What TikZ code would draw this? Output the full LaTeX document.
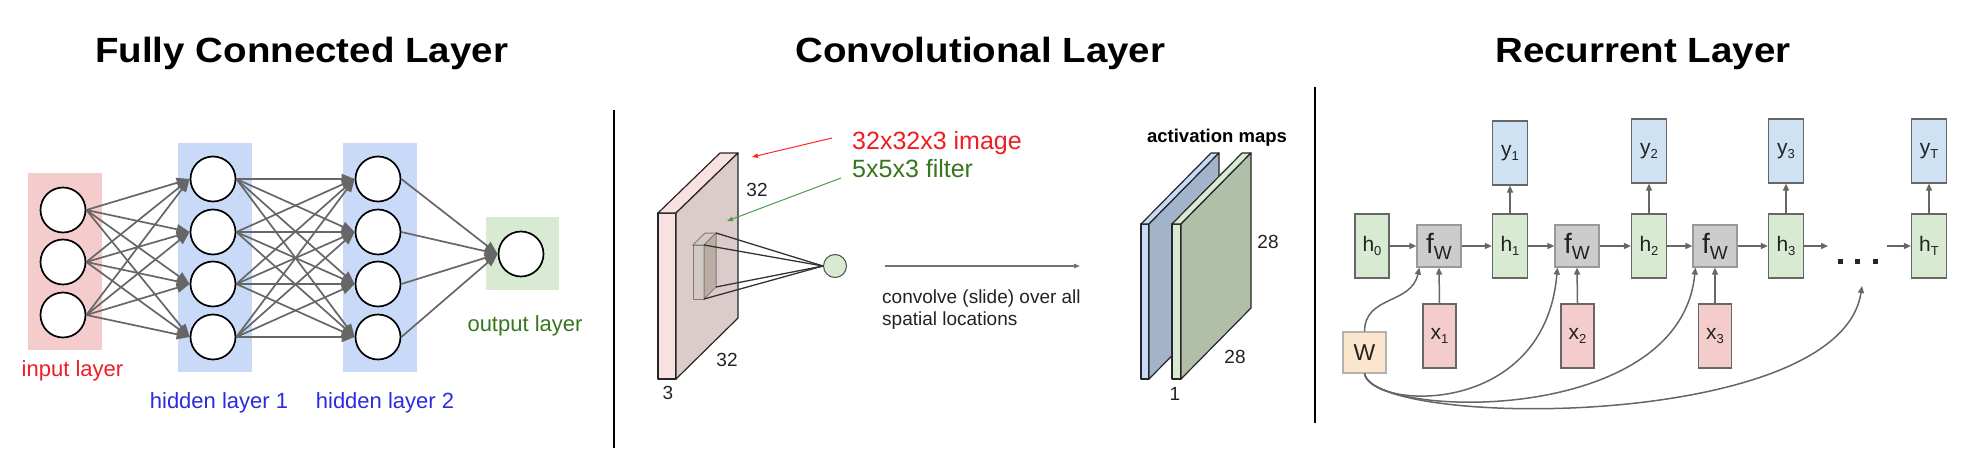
\documentclass[tikz,border=0pt]{standalone}
\usepackage{fontspec}
\setmainfont{Liberation Sans}
\newfontfamily\titlefont[FakeStretch=1.1]{Liberation Sans}
\usetikzlibrary{arrows.meta,calc}
\definecolor{inred}{HTML}{F4CCCC}
\definecolor{hidblue}{HTML}{C9DAF8}
\definecolor{outgreen}{HTML}{D9EAD3}
\definecolor{txtred}{HTML}{EE1C25}
\definecolor{txtblue}{HTML}{2A2AE0}
\definecolor{txtgreen}{HTML}{38761D}
\definecolor{edgegrey}{HTML}{666666}
\definecolor{yfill}{HTML}{CFE2F3}
\definecolor{ffill}{HTML}{CCCCCC}
\definecolor{wfill}{HTML}{FCE5CD}
\definecolor{slabthin}{HTML}{F9E1E1}
\definecolor{slabface}{HTML}{DCCBCB}
\definecolor{filtfront}{HTML}{D3CBC3}
\definecolor{filtside}{HTML}{BAAEA5}
\definecolor{filtline}{HTML}{857874}
\definecolor{bluethin}{HTML}{C9DAF8}
\definecolor{blueface}{HTML}{A3B3C9}
\definecolor{greenthin}{HTML}{D9EAD3}
\definecolor{greenface}{HTML}{B1BFA8}
\definecolor{darktext}{HTML}{222222}
\newcommand\myfs[1]{\fontsize{#1}{#1}\selectfont}
\newcommand\rsub[1]{\raisebox{-4pt}{\fontsize{13}{13}\selectfont #1}}
\begin{document}
\begin{tikzpicture}[x=1pt,y=-1pt,
  neuron/.style={circle,draw=black,line width=1.7pt,fill=white,minimum size=45pt,inner sep=0pt},
  fcedge/.style={draw=edgegrey,line width=1.7pt,-{Triangle[length=13pt,width=10pt]}},
  title/.style={anchor=base west,inner sep=0pt,font=\titlefont\bfseries\myfs{35}},
  lbl/.style={anchor=base,inner sep=0pt,font=\myfs{22}},
  num/.style={inner sep=0pt,font=\myfs{19},text=darktext},
  rbox/.style={draw=edgegrey,line width=1.2pt,inner sep=0pt,minimum width=35pt,minimum height=64pt,font=\myfs{21},text=darktext},
  rarrow/.style={draw=edgegrey,line width=1.5pt,-{Triangle[length=7pt,width=6pt]}},
  mapline/.style={draw=black!85,line width=1.2pt,line join=round}
]
\useasboundingbox (0,0) rectangle (1968,460);

% titles
\node[title] (t1) at (95,63) {Fully Connected Layer};
\node[title] (t2) at (795,63) {Convolutional Layer};
\node[title] (t3) at (1495,63) {Recurrent Layer};

% dividers
\draw[line width=2pt] (614,110) -- (614,448);
\draw[line width=2pt] (1315,87) -- (1315,423);

% ---------------- Fully connected ----------------
\fill[inred] (28,173) rectangle (102,350);
\fill[hidblue] (178,143) rectangle (252,372);
\fill[hidblue] (343,143) rectangle (417,372);
\fill[outgreen] (486,217) rectangle (559,290);

\node[neuron] (i1) at (63,210) {};
\node[neuron] (i2) at (63,262) {};
\node[neuron] (i3) at (63,315) {};
\node[neuron] (a1) at (213,179) {};
\node[neuron] (a2) at (213,232) {};
\node[neuron] (a3) at (213,284) {};
\node[neuron] (a4) at (213,337) {};
\node[neuron] (b1) at (378,179) {};
\node[neuron] (b2) at (378,232) {};
\node[neuron] (b3) at (378,284) {};
\node[neuron] (b4) at (378,337) {};
\node[neuron] (o1) at (521,254) {};

\foreach \s in {i1,i2,i3}{\foreach \t in {a1,a2,a3,a4}{\draw[fcedge] (\s.east) -- (\t.west);}}
\foreach \s in {a1,a2,a3,a4}{\foreach \t in {b1,b2,b3,b4}{\draw[fcedge] (\s.east) -- (\t.west);}}
\foreach \s in {b1,b2,b3,b4}{\draw[fcedge] (\s.east) -- (o1.west);}

\node[lbl,text=txtred] (lin) at (72.5,376) {input layer};
\node[lbl,text=txtblue] (lh1) at (219,408) {hidden layer 1};
\node[lbl,text=txtblue] (lh2) at (385,408) {hidden layer 2};
\node[lbl,text=txtgreen] (lout) at (525,331) {output layer};

% ---------------- Convolutional ----------------
% input volume
\filldraw[fill=slabthin,mapline] (658,213) rectangle (676,379);
\filldraw[fill=slabthin,mapline] (658,213) -- (676,213) -- (738,153) -- (720,153) -- cycle;
\filldraw[fill=slabface,mapline] (676,213) -- (738,153) -- (738,318) -- (676,379) -- cycle;
% filter
\filldraw[fill=filtfront,draw=filtline,line width=1pt] (693,245) rectangle (704,299);
\filldraw[fill=filtfront,draw=filtline,line width=1pt] (693,245) -- (704,245) -- (716,233) -- (705,233) -- cycle;
\filldraw[fill=filtside,draw=filtline,line width=1pt] (704,245) -- (716,233) -- (716,287) -- (704,299) -- cycle;
\coordinate (fa) at (716,233);
\coordinate (fb) at (704,245);
\coordinate (fc) at (716,287);
\coordinate (fd) at (704,299);
\node[circle,fill=outgreen,draw=black!70,line width=1pt,minimum size=23pt,inner sep=0pt] (cn) at (835,266) {};
\foreach \c in {fa,fb,fc,fd}{\draw[black!80,line width=1.3pt] (\c) -- (cn.west);}

% labels
\node[anchor=base west,inner sep=0pt,font=\myfs{25},text=txtred] (img) at (852,149) {32x32x3 image};
\node[anchor=base west,inner sep=0pt,font=\myfs{25},text=txtgreen] (flt) at (852,177) {5x5x3 filter};
\coordinate (ra) at (832,138);
\coordinate (rb) at (752,157);
\draw[red!85!white,line width=1pt,-{Triangle[length=6pt,width=4.5pt]}] (ra) -- (rb);
\coordinate (ga) at (841,178);
\coordinate (gb) at (727,221);
\draw[green!45!black!70!white,line width=1pt,-{Triangle[length=6pt,width=4.5pt]}] (ga) -- (gb);
\node[num] (n32a) at (757,190) {32};
\node[num] (n32b) at (727,360) {32};
\node[num] (n3) at (668,393) {3};

% slide arrow and text
\coordinate (sa) at (885,266);
\coordinate (sb) at (1080,266);
\draw[draw=black!55,line width=1.2pt,-{Triangle[length=6pt,width=4.5pt]}] (sa) -- (sb);
\node[anchor=base west,inner sep=0pt,font=\myfs{19},text=darktext] (cv1) at (882,303) {convolve (slide) over all};
\node[anchor=base west,inner sep=0pt,font=\myfs{19},text=darktext] (cv2) at (882,325) {spatial locations};

% activation maps
\node[anchor=base,inner sep=0pt,font=\bfseries\myfs{18.5},text=black] (am) at (1217,142) {activation maps};
\filldraw[fill=bluethin,mapline] (1141,224) rectangle (1149,379);
\filldraw[fill=bluethin,mapline] (1141,224) -- (1149,224) -- (1219,153) -- (1211,153) -- cycle;
\filldraw[fill=blueface,mapline] (1149,224) -- (1219,153) -- (1219,308) -- (1149,379) -- cycle;
\filldraw[fill=greenthin,mapline] (1172,224) rectangle (1181,379);
\filldraw[fill=greenthin,mapline] (1172,224) -- (1181,224) -- (1251,153) -- (1242,153) -- cycle;
\filldraw[fill=greenface,mapline] (1181,224) -- (1251,153) -- (1251,308) -- (1181,379) -- cycle;
\node[num] (n28a) at (1268,242) {28};
\node[num] (n28b) at (1235,357) {28};
\node[num] (n1) at (1175,394) {1};

% ---------------- Recurrent ----------------
\node[rbox,fill=outgreen,minimum width=34pt] (h0) at (1372,246) {h\rsub{0}};
\node[rbox,fill=outgreen] (h1) at (1510,246) {h\rsub{1}};
\node[rbox,fill=outgreen] (h2) at (1649,246) {h\rsub{2}};
\node[rbox,fill=outgreen] (h3) at (1786,246) {h\rsub{3}};
\node[rbox,fill=outgreen] (hT) at (1929,246) {h\rsub{T}};
\node[rbox,fill=yfill] (y1) at (1510,153) {y\rsub{1}};
\node[rbox,fill=yfill] (y2) at (1649,151) {y\rsub{2}};
\node[rbox,fill=yfill] (y3) at (1786,151) {y\rsub{3}};
\node[rbox,fill=yfill] (yT) at (1929,151) {y\rsub{T}};
\node[rbox,fill=inred,minimum width=33pt] (x1) at (1439.5,336) {x\rsub{1}};
\node[rbox,fill=inred,minimum width=33pt] (x2) at (1577.5,336) {x\rsub{2}};
\node[rbox,fill=inred,minimum width=33pt] (x3) at (1715,336) {x\rsub{3}};
\foreach \n/\xx in {fw1/1439,fw2/1577,fw3/1715}{
  \node[rbox,fill=ffill,draw=black!40,minimum width=44pt,minimum height=42pt] (\n) at (\xx,246)
    {\myfs{28}f\raisebox{-6pt}{\myfs{19}W}};
}
\node[rbox,fill=wfill,draw=black!30,minimum width=43pt,minimum height=41pt,font=\myfs{23}] (W) at (1364.5,352.5) {W};

% dots
\fill[black!85] (1838,259) rectangle (1843,264);
\fill[black!85] (1855,259) rectangle (1860,264);
\fill[black!85] (1873,259) rectangle (1878,264);
\coordinate (d1) at (1828,246);
\coordinate (d2) at (1887,246);
\coordinate (dt) at (1862,286);

% horizontal chain
\draw[rarrow] (h0.east) -- (fw1.west);
\draw[rarrow] (fw1.east) -- (h1.west);
\draw[rarrow] (h1.east) -- (fw2.west);
\draw[rarrow] (fw2.east) -- (h2.west);
\draw[rarrow] (h2.east) -- (fw3.west);
\draw[rarrow] (fw3.east) -- (h3.west);
\draw[rarrow] (h3.east) -- (d1);
\draw[rarrow] (d2) -- (hT.west);
% vertical
\draw[rarrow] (h1.north) -- (y1.south);
\draw[rarrow] (h2.north) -- (y2.south);
\draw[rarrow] (h3.north) -- (y3.south);
\draw[rarrow] (hT.north) -- (yT.south);
\draw[rarrow] (x1.north) -- (fw1.south);
\draw[rarrow] (x2.north) -- (fw2.south);
\draw[rarrow] (x3.north) -- (fw3.south);
% weight sharing curves
\draw[rarrow] (W.north) .. controls (1365,295) and (1411,305) .. ($(fw1.south west)+(3,0)$);
\draw[rarrow] (W.south) .. controls (1372,410) and (1545,418) .. ($(fw2.south west)+(3,0)$);
\draw[rarrow] (W.south) .. controls (1372,418) and (1680,428) .. ($(fw3.south west)+(3,0)$);
\draw[rarrow] (W.south) .. controls (1372,428) and (1840,432) .. (dt);
\end{tikzpicture}
\end{document}
